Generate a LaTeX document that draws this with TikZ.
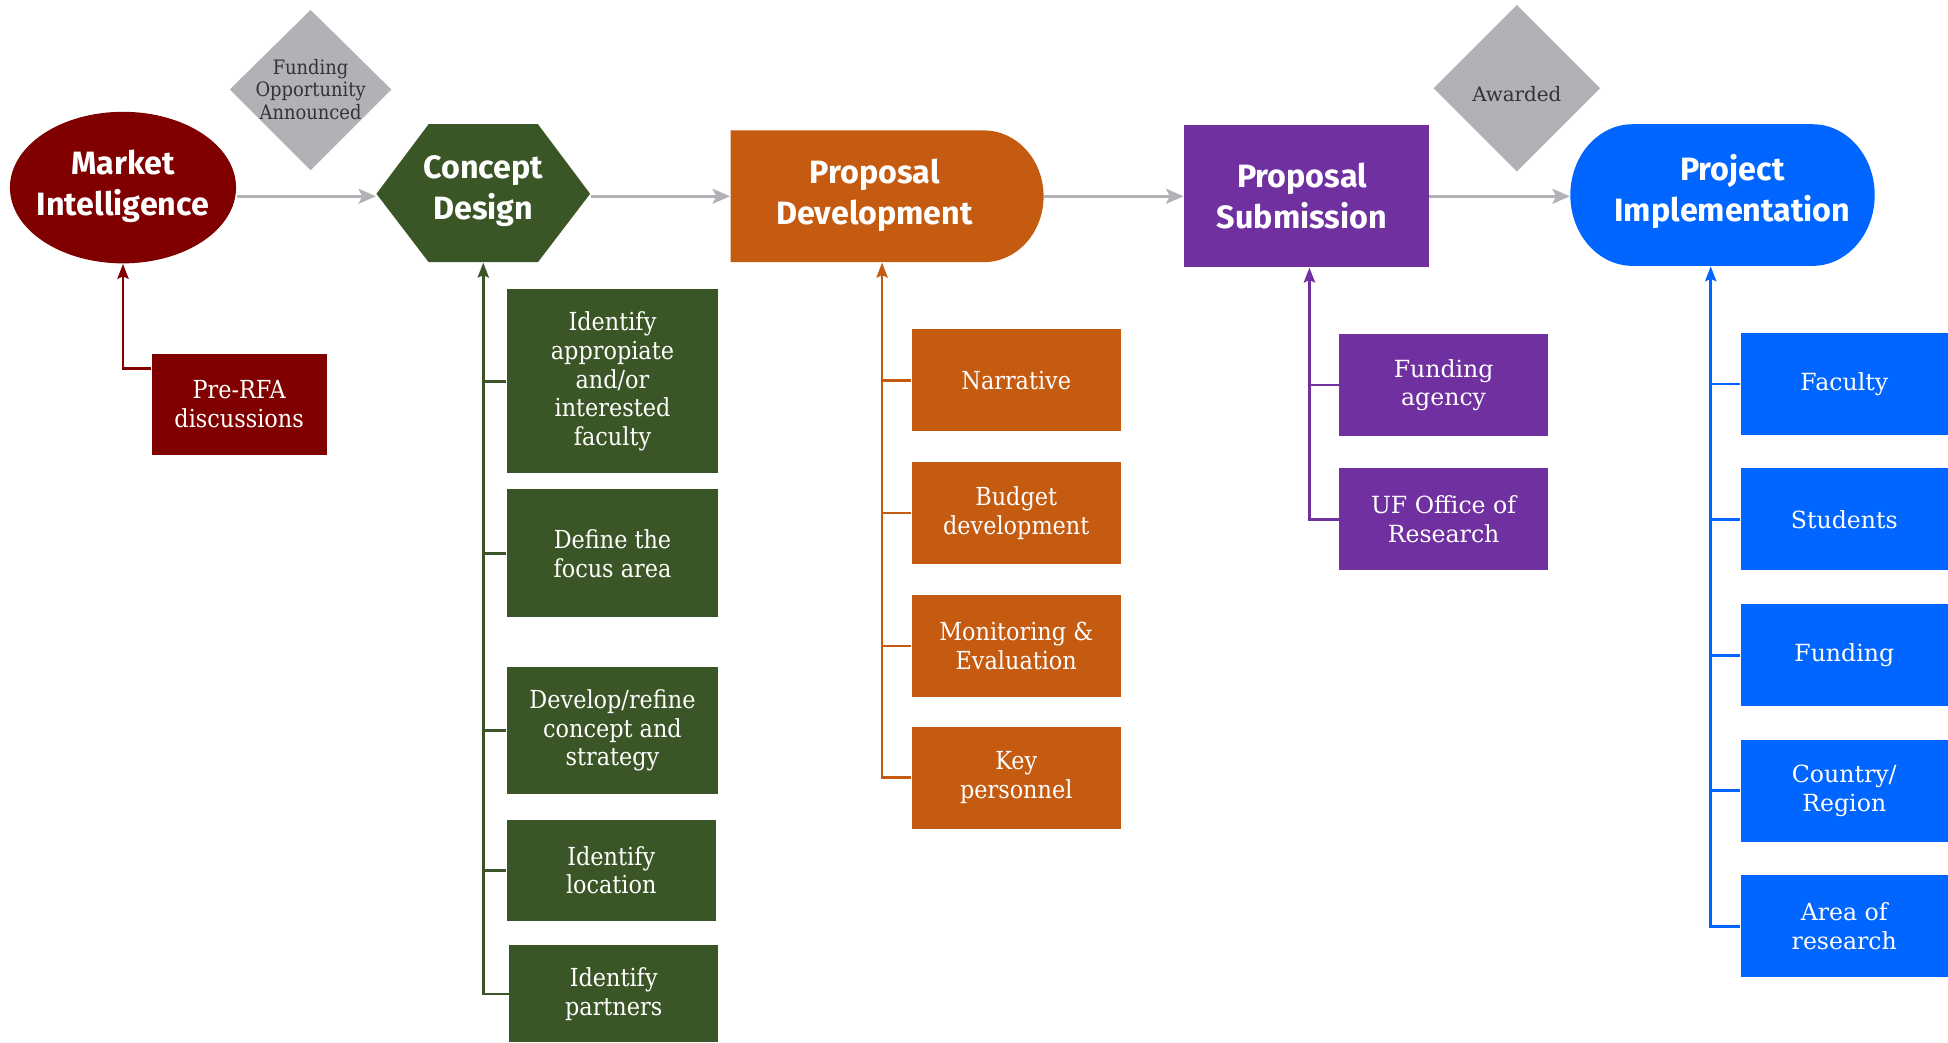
\documentclass[tikz,border=0pt]{standalone}
\usepackage{fontspec}
\usetikzlibrary{arrows.meta,shapes.geometric,calc}
\newfontfamily\titlefont{Fira Sans}
\newfontfamily\slabfont{DejaVu Serif}[FakeStretch=0.9]
\newfontfamily\widefont{DejaVu Serif}
\definecolor{cred}{HTML}{800000}
\definecolor{cgreen}{HTML}{3A5526}
\definecolor{corange}{HTML}{C55A11}
\definecolor{cpurple}{HTML}{7030A0}
\definecolor{cblue}{HTML}{0066FF}
\definecolor{cgray}{HTML}{B1B2B5}
\definecolor{cdark}{HTML}{333333}
\tikzset{
  title/.style={text=white, font=\titlefont\bfseries\fontsize{13}{16.5}\selectfont, align=center, inner sep=0pt},
  sub/.style={text=white, font=\slabfont\fontsize{10}{11.5}\selectfont, align=center, inner sep=0pt, minimum width=84pt, minimum height=41pt},
  subw/.style={text=white, font=\widefont\fontsize{9.5}{11.5}\selectfont, align=center, inner sep=0pt, minimum width=84pt, minimum height=41pt},
  dtext/.style={inner sep=0pt, text=cdark, font=\slabfont\fontsize{8}{9}\selectfont, align=center},
  garrow/.style={draw=cgray, line width=1.3pt, -{Stealth[length=7pt,width=6pt,inset=1.5pt]}},
  cline/.style={line width=1.1pt},
  carrow/.style={line width=1.1pt, -{Stealth[length=6pt,width=4.5pt,inset=1pt]}},
  shapebox/.style={inner sep=0pt}
}
\begin{document}
\begin{tikzpicture}[x=0.5pt,y=-0.5pt]
\useasboundingbox (0,0) rectangle (1568,839);

% decision diamonds
\fill[cgray] (250,8) -- (315,72) -- (250,137) -- (185,72) -- cycle;
\node[dtext] (fund) at (250,72) {Funding\\Opportunity\\Announced};
\fill[cgray] (1221,4) -- (1288,71) -- (1221,138) -- (1154,71) -- cycle;
\node[dtext, font=\widefont\fontsize{8}{9}\selectfont] (award) at (1221,76) {Awarded};

% Market Intelligence
\fill[cred] (99,151) ellipse [x radius=45.5pt, y radius=30.5pt];
\node[shapebox, ellipse, minimum width=91pt, minimum height=61pt] (mi) at (99,151) {};
\node[title] (mit) at (99,150) {Market\\Intelligence};

% Concept Design hexagon
\fill[cgreen] (303,156) -- (345,100) -- (433,100) -- (475,156) -- (433,211) -- (345,211) -- cycle;
\node[shapebox, minimum width=86pt, minimum height=53pt] (cd) at (389,158) {};
\node[title] (cdt) at (389,154) {Concept\\Design};

% Proposal Development
\fill[corange] (588,105) -- (792,105) arc[start angle=90, end angle=-90, x radius=24pt, y radius=26.5pt] -- (588,211) -- cycle;
\node[shapebox, minimum width=126pt, minimum height=53pt] (pd) at (714,158) {};
\node[title] (pdt) at (704,157) {Proposal\\Development};

% Proposal Submission
\node[shapebox, fill=cpurple, minimum width=98.5pt, minimum height=57pt] (ps) at (1051.5,158) {};
\node[title] (pst) at (1048,158) {Proposal\\Submission};

% Project Implementation
\fill[cblue] (1314,100) -- (1459,100) arc[start angle=90, end angle=-90, x radius=25pt, y radius=28.5pt] -- (1314,214) arc[start angle=270, end angle=90, x radius=25pt, y radius=28.5pt] -- cycle;
\node[shapebox, minimum width=122.5pt, minimum height=57pt] (pi) at (1386.5,157) {};
\node[title] (pit) at (1394.5,154) {Project\\Implementation};

% main flow arrows
\draw[garrow] (mi.east |- cd.west) -- (cd.west);
\draw[garrow] (cd.east) -- (pd.west);
\draw[garrow] (pd.east) -- (ps.west);
\draw[garrow] (ps.east) -- (ps.east -| pi.west);

% Market Intelligence sub
\node[sub, fill=cred, minimum width=70.5pt, minimum height=40.5pt] (pre) at (192.5,325.5) {Pre-RFA\\discussions};
\draw[carrow, draw=cred] ([yshift=-6pt]pre.north west) -| (mi.south);

% Concept Design subs
\node[sub, fill=cgreen, minimum width=85pt, minimum height=74pt] (g1) at (493,307) {Identify\\appropiate\\and/or\\interested\\faculty};
\node[sub, fill=cgreen, minimum width=85pt, minimum height=51.5pt] (g2) at (493,445.5) {Define the\\focus area};
\node[sub, fill=cgreen, minimum width=85pt, minimum height=51pt] (g3) at (493,588) {Develop/refine\\concept and\\strategy};
\node[sub, fill=cgreen, minimum width=84pt, minimum height=40.5pt] (g4) at (492,700.5) {Identify\\location};
\node[sub, fill=cgreen, minimum width=84pt, minimum height=39pt] (g5) at (494,800) {Identify\\partners};
\draw[carrow, draw=cgreen] (g5.west) -| (cd.south);
\foreach \n in {g1,g2,g3,g4} \draw[cline, draw=cgreen] (\n.west) -- (\n.west -| cd.south);

% Proposal Development subs
\coordinate (pdt0) at ([xshift=-2pt]pd.south);
\node[sub, fill=corange] (o1) at (818,306) {Narrative};
\node[sub, fill=corange] (o2) at (818,413) {Budget\\development};
\node[sub, fill=corange] (o3) at (818,520) {Monitoring \&\\Evaluation};
\node[sub, fill=corange] (o4) at (818,626) {Key\\personnel};
\draw[carrow, draw=corange] (o4.west) -| (pdt0);
\foreach \n in {o1,o2,o3} \draw[cline, draw=corange] (\n.west) -- (\n.west -| pdt0);

% Proposal Submission subs
\coordinate (pst0) at ([xshift=1.25pt]ps.south);
\node[subw, fill=cpurple] (p1) at (1162,310) {Funding\\agency};
\node[subw, fill=cpurple] (p2) at (1162,418) {UF Office of\\Research};
\draw[carrow, draw=cpurple] (p2.west) -| (pst0);
\draw[cline, draw=cpurple] (p1.west) -- (p1.west -| pst0);

% Project Implementation subs
\coordinate (pit0) at ([xshift=-4.75pt]pi.south);
\node[subw, fill=cblue, minimum width=83.5pt] (b1) at (1484.5,309) {Faculty};
\node[subw, fill=cblue, minimum width=83.5pt] (b2) at (1484.5,418) {Students};
\node[subw, fill=cblue, minimum width=83.5pt] (b3) at (1484.5,527.5) {Funding};
\node[subw, fill=cblue, minimum width=83.5pt] (b4) at (1484.5,636.5) {Country/\\Region};
\node[subw, fill=cblue, minimum width=83.5pt] (b5) at (1484.5,745.5) {Area of\\research};
\draw[carrow, draw=cblue] (b5.west) -| (pit0);
\foreach \n in {b1,b2,b3,b4} \draw[cline, draw=cblue] (\n.west) -- (\n.west -| pit0);
\end{tikzpicture}
\end{document}
